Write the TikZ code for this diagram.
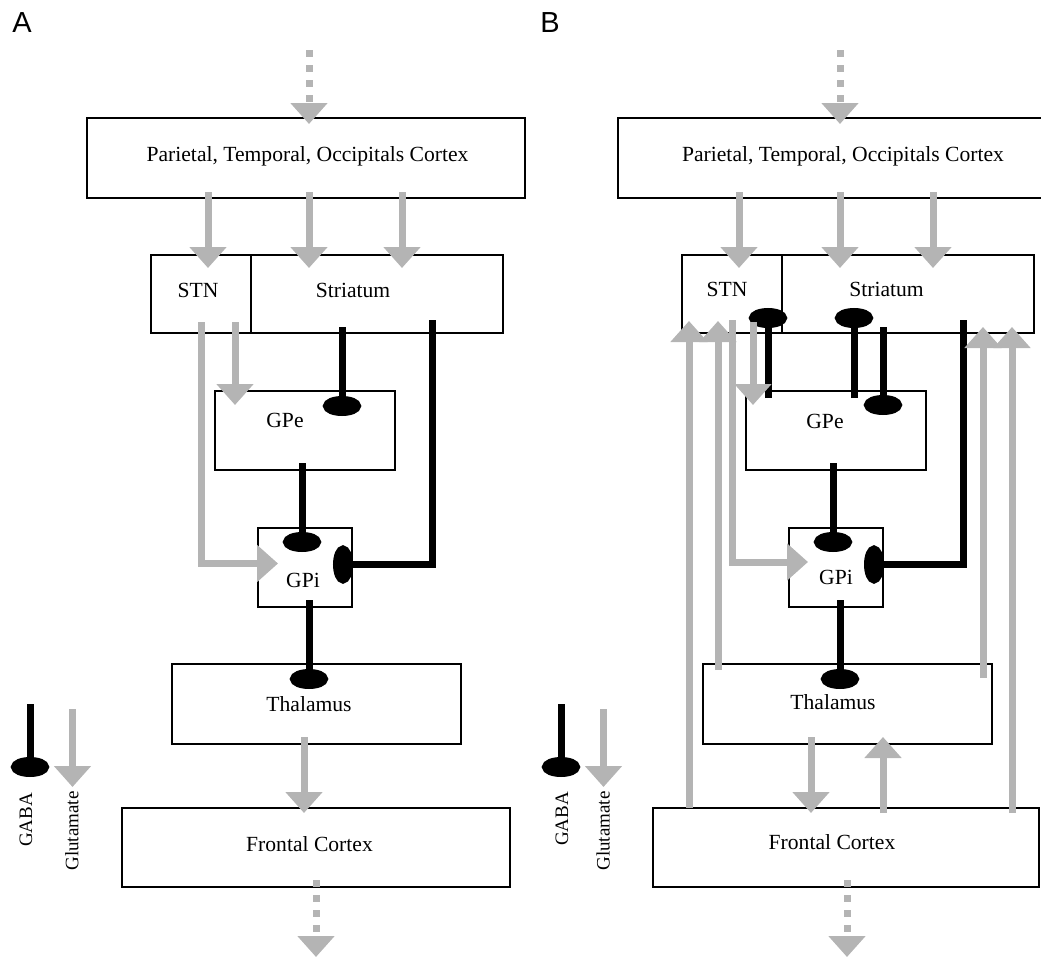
\documentclass[tikz,border=0pt]{standalone}
\usepackage{fontspec}
\setmainfont{Liberation Serif}
\newfontfamily\panelfont{Liberation Sans}
\usetikzlibrary{arrows.meta,calc}
\definecolor{glucol}{HTML}{B4B4B4}
\definecolor{ink}{HTML}{000000}

\begin{document}
\begin{tikzpicture}[x=0.5pt,y=-0.5pt,
    box/.style={draw=ink,line width=0.9pt,inner sep=0pt,outer sep=0pt},
    lbl/.style={font=\fontsize{10.8}{12}\selectfont,anchor=base,inner sep=0pt},
    leg/.style={font=\fontsize{9.5}{11}\selectfont,rotate=90,inner sep=0pt},
    panel/.style={font=\panelfont\fontsize{14.5}{16}\selectfont,inner sep=0pt},
    glu/.style={draw=glucol,line width=3.5pt,-{Triangle[width=18pt,length=10.5pt]}},
    gaba/.style={draw=ink,line width=3.5pt,-{Ellipse[width=19pt,length=10pt]}},
    feed/.style={glu,dash pattern=on 3.5pt off 4pt}]
  \useasboundingbox (0,0) rectangle (1041,958);
  \clip (0,0) rectangle (1041,958);
  \node[panel] (labA) at (22,23) {A};
  \node[panel] (labB) at (550,23) {B};
  % boxes, panel A and panel B
  \foreach \p/\dx in {A/0,B/531}{
    \node[box,minimum width=219pt,minimum height=40pt] (pto\p) at (306+\dx,158) {};
    \node[box,minimum width=50pt,minimum height=39pt] (stn\p) at (201+\dx,294) {};
    \node[box,minimum width=126pt,minimum height=39pt] (str\p) at (377+\dx,294) {};
    \node[box,minimum width=90pt,minimum height=39.5pt] (gpe\p) at (305+\dx,430.5) {};
    \node[box,minimum width=47pt,minimum height=39.5pt] (gpi\p) at (305+\dx,567.5) {};
    \node[box,minimum width=144.5pt,minimum height=40pt] (th\p) at (316.5+\dx,704) {};
    \coordinate (in\p) at (309+\dx,50);
    \coordinate (gaba\p0) at (30+\dx,704);
    \coordinate (gaba\p1) at (30+\dx,777);
    \coordinate (glu\p0) at (72.5+\dx,709);
    \coordinate (glu\p1) at (72.5+\dx,787);
  }
  \node[box,minimum width=194pt,minimum height=39.5pt] (fcA) at (316,847.5) {};
  \node[box,minimum width=193pt,minimum height=39.5pt] (fcB) at (846,847.5) {};
  \coordinate (outA) at (316,957);
  \coordinate (outB) at (847,957);
  \node[lbl] (ptoAt) at (307.5,162) {Parietal, Temporal, Occipitals Cortex};
  \node[lbl] (stnAt) at (198,297) {STN};
  \node[lbl] (strAt) at (353,297) {Striatum};
  \node[lbl] (gpeAt) at (285,427) {GPe};
  \node[lbl] (gpiAt) at (303,587) {GPi};
  \node[lbl] (thAt) at (309,711) {Thalamus};
  \node[lbl] (fcAt) at (309.5,851) {Frontal Cortex};
  \node[lbl] (ptoBt) at (843,162) {Parietal, Temporal, Occipitals Cortex};
  \node[lbl] (stnBt) at (727,296) {STN};
  \node[lbl] (strBt) at (886.5,296) {Striatum};
  \node[lbl] (gpeBt) at (825,428) {GPe};
  \node[lbl] (gpiBt) at (836,584) {GPi};
  \node[lbl] (thBt) at (833,709) {Thalamus};
  \node[lbl] (fcBt) at (832,849) {Frontal Cortex};
  % shared pathways
  \foreach \p in {A,B}{
    \draw[gaba] ($(str\p.south)+(55,-13)$) |- ($(gpi\p.east)+(-19,-3)$);
    \draw[gaba] ($(gpe\p.south)+(-3,-7)$) -- ($(gpi\p.north)+(-3,24)$);
    \draw[gaba] ($(gpi\p.south)+(4,-7)$) -- ($(th\p.north)+(-7.5,25)$);
    \draw[feed] (in\p) -- ($(pto\p.north)+(3,6)$);
    \draw[glu] ($(pto\p.south)+(-98,-6)$) -- ($(stn\p.north)+(7,13)$);
    \draw[glu] ($(pto\p.south)+(3,-6)$) -- ($(str\p.north)+(-68,13)$);
    \draw[glu] ($(pto\p.south)+(96,-6)$) -- ($(str\p.north)+(25,13)$);
    \draw[gaba] (gaba\p0) -- (gaba\p1);
    \draw[glu] (glu\p0) -- (glu\p1);
  }
  % panel A
  \draw[gaba] ($(strA.south)+(-35,-6)$) -- ($(gpeA.north)+(37,25)$);
  \draw[glu] ($(stnA.south)+(34,-11)$) -- ($(gpeA.north)+(-70,14)$);
  \draw[glu] ($(stnA.south)+(0,-11)$) |- ($(gpiA.west)+(20,-4)$);
  \draw[glu] ($(thA.south)+(-12.5,-7)$) -- ($(fcA.north)+(-12,5)$);
  \draw[feed] ($(fcA.south)+(0,-7)$) -- (outA);
  % panel B
  \draw[gaba] ($(gpeB.north)+(-68,7)$) -- ($(stnB.south)+(36,-25)$);
  \draw[gaba] ($(gpeB.north)+(18,7)$) -- ($(strB.south)+(-54,-25)$);
  \draw[gaba] ($(strB.south)+(-25,-6)$) -- ($(gpeB.north)+(47,24)$);
  \draw[glu] ($(stnB.south)+(21,-11)$) -- ($(gpeB.north)+(-83,14)$);
  \draw[glu] ($(stnB.south)+(0,-13)$) |- ($(gpiB.west)+(19,-5.5)$);
  \draw[glu] ($(thB.south)+(-36.5,-7)$) -- ($(fcB.north)+(-35,5)$);
  \draw[glu] ($(fcB.north)+(37,5)$) -- ($(thB.south)+(35.5,-7)$);
  \draw[glu] ($(fcB.north)+(-157,0)$) -- ($(stnB.south)+(-43,-12)$);
  \draw[glu] ($(thB.north)+(-129.5,6)$) -- ($(stnB.south)+(-14,-12)$);
  \draw[glu] ($(thB.north)+(135.5,14)$) -- ($(strB.south)+(75,-6)$);
  \draw[glu] ($(fcB.north)+(166,5)$) -- ($(strB.south)+(104,-6)$);
  \draw[feed] ($(fcB.south)+(1,-7)$) -- (outB);
  % legends
  \node[leg] (gabaAt) at (26,820) {GABA};
  \node[leg] (gluAt) at (72,831) {Glutamate};
  \node[leg] (gabaBt) at (562,819) {GABA};
  \node[leg] (gluBt) at (603,831) {Glutamate};
\end{tikzpicture}
\end{document}
